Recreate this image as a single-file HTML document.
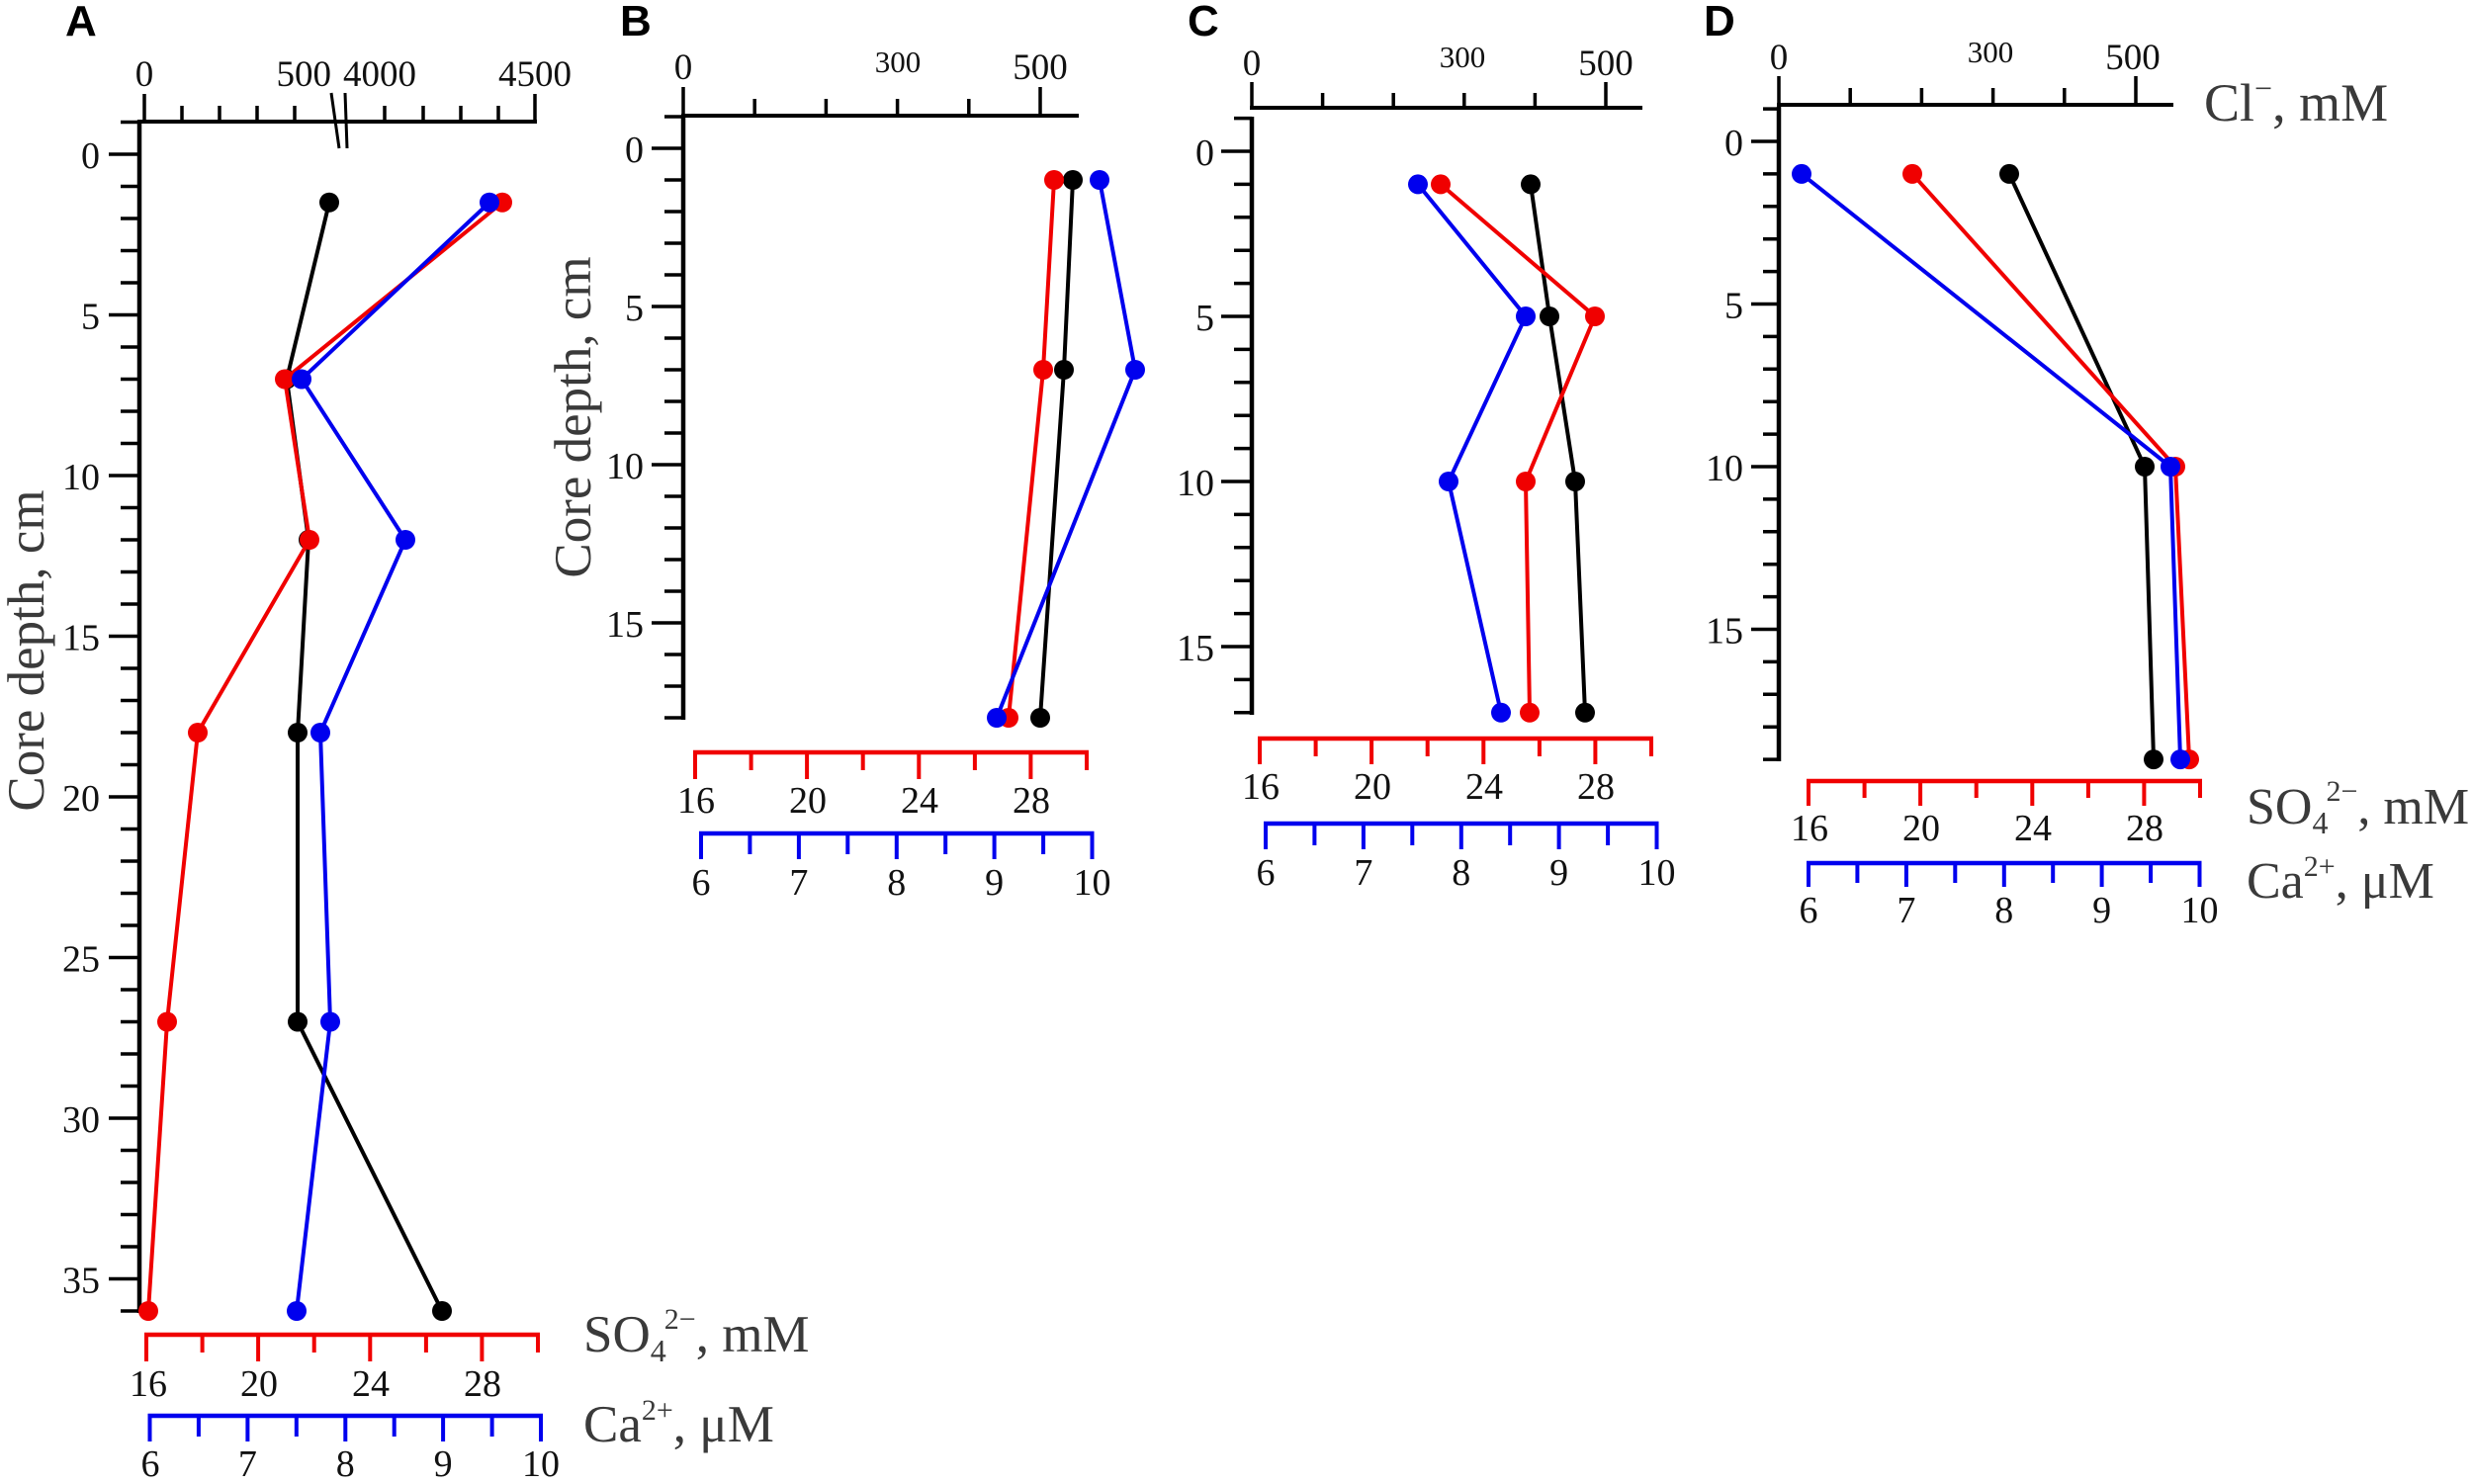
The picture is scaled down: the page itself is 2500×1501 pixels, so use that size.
<!DOCTYPE html>
<html><head><meta charset="utf-8"><style>
html,body{margin:0;padding:0;background:#fff;}
svg{display:block;}
text{font-family:"Liberation Serif",serif;}
.lt{font-family:"Liberation Sans",sans-serif;font-weight:bold;font-size:44px;fill:#000;}
.tk{font-size:38px;fill:#111;}
.tt{font-size:37px;fill:#111;}
.ts{font-size:31px;fill:#111;}
.ti{font-size:53px;fill:#3a3a3a;}
</style></head><body>
<svg width="2500" height="1501" viewBox="0 0 2500 1501" xmlns="http://www.w3.org/2000/svg">
<rect width="2500" height="1501" fill="#fff"/>

<!-- Panel letters -->
<text class="lt" x="66" y="36">A</text>
<text class="lt" x="627" y="36">B</text>
<text class="lt" x="1201" y="36">C</text>
<text class="lt" x="1723" y="36">D</text>

<!-- ================= PANEL A ================= -->
<g stroke="#000" fill="none">
<path d="M141 121.5V1328" stroke-width="4.5"/>
<path d="M139 123H543" stroke-width="4"/>
<path stroke-width="3.5" d="M122 123.5H141M122 188.5H141M122 221H141M122 253.5H141M122 286H141M122 351H141M122 383.5H141M122 416H141M122 448.5H141M122 513.5H141M122 546H141M122 578.5H141M122 611H141M122 676H141M122 708.5H141M122 741H141M122 773.5H141M122 838.5H141M122 871H141M122 903.5H141M122 936H141M122 1001H141M122 1033.5H141M122 1066H141M122 1098.5H141M122 1163.5H141M122 1196H141M122 1228.5H141M122 1261H141M122 1326H141"/>
<path stroke-width="3.5" d="M110 156H141M110 318.5H141M110 481H141M110 643.5H141M110 806H141M110 968.5H141M110 1131H141M110 1293.5H141"/>
<path stroke-width="3.5" d="M146 123V95M541 123V95M184 123V107M222 123V107M260 123V107M298 123V107M389 123V107M428 123V107M466 123V107M504 123V107"/>
<path stroke-width="3" d="M335 94L343 150M349 94L351 150"/>
</g>
<g class="tk" text-anchor="end">
<text x="101" y="170">0</text><text x="101" y="332.5">5</text><text x="101" y="495">10</text><text x="101" y="657.5">15</text>
<text x="101" y="820">20</text><text x="101" y="982.5">25</text><text x="101" y="1145">30</text><text x="101" y="1307.5">35</text>
</g>
<g class="tt">
<text x="146" y="87" text-anchor="middle">0</text>
<text x="335" y="87" text-anchor="end">500</text>
<text x="347" y="87">4000</text>
<text x="541" y="87" text-anchor="middle">4500</text>
</g>
<text class="ti" transform="translate(44,658) rotate(-90)" text-anchor="middle">Core depth, cm</text>

<!-- A bottom axes -->
<g stroke="#f00000" fill="none" stroke-width="4">
<path d="M146 1350H546" stroke-width="4.5"/>
<path d="M148 1350V1377M261.1 1350V1377M374.3 1350V1377M487.4 1350V1377M204.6 1350V1368M317.7 1350V1368M430.9 1350V1368M544 1350V1368"/>
</g>
<g stroke="#0000ee" fill="none" stroke-width="4">
<path d="M149.5 1432H549" stroke-width="4.5"/>
<path d="M151.5 1432V1458M250.4 1432V1458M349.3 1432V1458M448.1 1432V1458M547 1432V1458M200.9 1432V1453M299.8 1432V1453M398.7 1432V1453M497.6 1432V1453"/>
</g>
<g class="tk" text-anchor="middle">
<text x="150" y="1412">16</text><text x="262" y="1412">20</text><text x="375" y="1412">24</text><text x="488" y="1412">28</text>
<text x="152" y="1493">6</text><text x="250.4" y="1493">7</text><text x="349.3" y="1493">8</text><text x="448.1" y="1493">9</text><text x="547" y="1493">10</text>
</g>
<text class="ti" x="590" y="1367" style="font-size:53px">SO<tspan font-size="32" dy="10">4</tspan><tspan font-size="30" dx="-2" dy="-33">2−</tspan><tspan font-size="53" dy="23">, mM</tspan></text>
<text class="ti" x="590" y="1458" style="font-size:53px">Ca<tspan font-size="30" dy="-22">2+</tspan><tspan font-size="53" dy="22">, μM</tspan></text>

<!-- A data -->
<polyline stroke="#000" stroke-width="4" fill="none" points="333,204.75 290,383.5 312,546 301,741 301,1033.5 447,1326"/>
<g fill="#000"><circle cx="333" cy="204.75" r="10"/><circle cx="290" cy="383.5" r="10"/><circle cx="312" cy="546" r="10"/><circle cx="301" cy="741" r="10"/><circle cx="301" cy="1033.5" r="10"/><circle cx="447" cy="1326" r="10"/></g>
<polyline stroke="#f00000" stroke-width="4" fill="none" points="508,204.75 288,383.5 313,546 200,741 169,1033.5 150,1326"/>
<g fill="#f00000"><circle cx="508" cy="204.75" r="10"/><circle cx="288" cy="383.5" r="10"/><circle cx="313" cy="546" r="10"/><circle cx="200" cy="741" r="10"/><circle cx="169" cy="1033.5" r="10"/><circle cx="150" cy="1326" r="10"/></g>
<polyline stroke="#0000ee" stroke-width="4" fill="none" points="495,204.75 305,383.5 410,546 324,741 334,1033.5 300,1326"/>
<g fill="#0000ee"><circle cx="495" cy="204.75" r="10"/><circle cx="305" cy="383.5" r="10"/><circle cx="410" cy="546" r="10"/><circle cx="324" cy="741" r="10"/><circle cx="334" cy="1033.5" r="10"/><circle cx="300" cy="1326" r="10"/></g>

<!-- ================= PANEL B ================= -->
<g stroke="#000" fill="none">
<path d="M691 116V728" stroke-width="4.5"/>
<path d="M689 117H1091" stroke-width="4"/>
<path stroke-width="3.5" d="M672 118H691M672 182H691M672 214H691M672 246H691M672 278H691M672 342H691M672 374H691M672 406H691M672 438H691M672 502H691M672 534H691M672 566H691M672 598H691M672 662H691M672 694H691M672 726H691"/>
<path stroke-width="3.5" d="M659 150H691M659 310H691M659 470H691M659 630H691"/>
<path stroke-width="3.5" d="M691 117V88M1052 117V88M763.2 117V100M835.4 117V100M907.6 117V100M979.8 117V100"/>
</g>
<g class="tk" text-anchor="end">
<text x="651" y="164">0</text><text x="651" y="324">5</text><text x="651" y="484">10</text><text x="651" y="644">15</text>
</g>
<text class="tt" x="691" y="80" text-anchor="middle">0</text>
<text class="ts" x="908" y="73" text-anchor="middle">300</text>
<text class="tt" x="1052" y="80" text-anchor="middle">500</text>
<text class="ti" transform="translate(597,422) rotate(-90)" text-anchor="middle">Core depth, cm</text>

<g stroke="#f00000" fill="none" stroke-width="4">
<path d="M701 761H1101" stroke-width="4.5"/>
<path d="M703 761V788M816.1 761V788M929.3 761V788M1042.4 761V788M759.6 761V779M872.7 761V779M985.9 761V779M1099 761V779"/>
</g>
<g stroke="#0000ee" fill="none" stroke-width="4">
<path d="M707 843H1106.5" stroke-width="4.5"/>
<path d="M709 843V869M807.9 843V869M906.8 843V869M1005.6 843V869M1104.5 843V869M758.4 843V864M857.3 843V864M956.2 843V864M1055.1 843V864"/>
</g>
<g class="tk" text-anchor="middle">
<text x="704" y="822">16</text><text x="817" y="822">20</text><text x="930" y="822">24</text><text x="1043" y="822">28</text>
<text x="709" y="905">6</text><text x="807.9" y="905">7</text><text x="906.8" y="905">8</text><text x="1005.6" y="905">9</text><text x="1104.5" y="905">10</text>
</g>

<polyline stroke="#000" stroke-width="4" fill="none" points="1085,182 1076,374 1052,726"/>
<g fill="#000"><circle cx="1085" cy="182" r="10"/><circle cx="1076" cy="374" r="10"/><circle cx="1052" cy="726" r="10"/></g>
<polyline stroke="#f00000" stroke-width="4" fill="none" points="1066,182 1055,374 1020,726"/>
<g fill="#f00000"><circle cx="1066" cy="182" r="10"/><circle cx="1055" cy="374" r="10"/><circle cx="1020" cy="726" r="10"/></g>
<polyline stroke="#0000ee" stroke-width="4" fill="none" points="1112,182 1148,374 1008,726"/>
<g fill="#0000ee"><circle cx="1112" cy="182" r="10"/><circle cx="1148" cy="374" r="10"/><circle cx="1008" cy="726" r="10"/></g>

<!-- ================= PANEL C ================= -->
<g stroke="#000" fill="none">
<path d="M1266 118V723" stroke-width="4.5"/>
<path d="M1264 109H1661" stroke-width="4"/>
<path stroke-width="3.5" d="M1248 119.6H1266M1248 186.4H1266M1248 219.8H1266M1248 253.2H1266M1248 286.6H1266M1248 353.4H1266M1248 386.8H1266M1248 420.2H1266M1248 453.6H1266M1248 520.4H1266M1248 553.8H1266M1248 587.2H1266M1248 620.6H1266M1248 687.4H1266M1248 720.8H1266"/>
<path stroke-width="3.5" d="M1235 153H1266M1235 320H1266M1235 487H1266M1235 654H1266"/>
<path stroke-width="3.5" d="M1266 109V83M1624 109V83M1337.6 109V94M1409.2 109V94M1480.8 109V94M1552.4 109V94"/>
</g>
<g class="tk" text-anchor="end">
<text x="1228" y="167">0</text><text x="1228" y="334">5</text><text x="1228" y="501">10</text><text x="1228" y="668">15</text>
</g>
<text class="tt" x="1266" y="76" text-anchor="middle">0</text>
<text class="ts" x="1479" y="68" text-anchor="middle">300</text>
<text class="tt" x="1624" y="76" text-anchor="middle">500</text>

<g stroke="#f00000" fill="none" stroke-width="4">
<path d="M1272 747H1672" stroke-width="4.5"/>
<path d="M1274 747V773M1387.1 747V773M1500.3 747V773M1613.4 747V773M1330.6 747V765M1443.7 747V765M1556.9 747V765M1670 747V765"/>
</g>
<g stroke="#0000ee" fill="none" stroke-width="4">
<path d="M1278 833H1677.5" stroke-width="4.5"/>
<path d="M1280 833V859M1378.9 833V859M1477.8 833V859M1576.6 833V859M1675.5 833V859M1329.4 833V855M1428.3 833V855M1527.2 833V855M1626.1 833V855"/>
</g>
<g class="tk" text-anchor="middle">
<text x="1275" y="808">16</text><text x="1388" y="808">20</text><text x="1501" y="808">24</text><text x="1614" y="808">28</text>
<text x="1280" y="895">6</text><text x="1378.9" y="895">7</text><text x="1477.8" y="895">8</text><text x="1576.6" y="895">9</text><text x="1675.5" y="895">10</text>
</g>

<polyline stroke="#000" stroke-width="4" fill="none" points="1548,186.4 1567,320 1593,487 1603,720.8"/>
<g fill="#000"><circle cx="1548" cy="186.4" r="10"/><circle cx="1567" cy="320" r="10"/><circle cx="1593" cy="487" r="10"/><circle cx="1603" cy="720.8" r="10"/></g>
<polyline stroke="#f00000" stroke-width="4" fill="none" points="1457,186.4 1613,320 1543,487 1547,720.8"/>
<g fill="#f00000"><circle cx="1457" cy="186.4" r="10"/><circle cx="1613" cy="320" r="10"/><circle cx="1543" cy="487" r="10"/><circle cx="1547" cy="720.8" r="10"/></g>
<polyline stroke="#0000ee" stroke-width="4" fill="none" points="1434,186.4 1543,320 1465,487 1518,720.8"/>
<g fill="#0000ee"><circle cx="1434" cy="186.4" r="10"/><circle cx="1543" cy="320" r="10"/><circle cx="1465" cy="487" r="10"/><circle cx="1518" cy="720.8" r="10"/></g>

<!-- ================= PANEL D ================= -->
<g stroke="#000" fill="none">
<path d="M1799 108V770" stroke-width="4.5"/>
<path d="M1797 106H2198" stroke-width="4"/>
<path stroke-width="3.5" d="M1783 110.1H1799M1783 175.9H1799M1783 208.8H1799M1783 241.7H1799M1783 274.6H1799M1783 340.4H1799M1783 373.3H1799M1783 406.2H1799M1783 439.1H1799M1783 504.9H1799M1783 537.8H1799M1783 570.7H1799M1783 603.6H1799M1783 669.4H1799M1783 702.3H1799M1783 735.2H1799M1783 768.1H1799"/>
<path stroke-width="3.5" d="M1771 143H1799M1771 307.5H1799M1771 472H1799M1771 636.5H1799"/>
<path stroke-width="3.5" d="M1799 106V77M2160 106V77M1871.2 106V89M1943.4 106V89M2015.6 106V89M2087.8 106V89"/>
</g>
<g class="tk" text-anchor="end">
<text x="1763" y="157">0</text><text x="1763" y="321.5">5</text><text x="1763" y="486">10</text><text x="1763" y="650.5">15</text>
</g>
<text class="tt" x="1799" y="70" text-anchor="middle">0</text>
<text class="ts" x="2013" y="63" text-anchor="middle">300</text>
<text class="tt" x="2157" y="70" text-anchor="middle">500</text>
<text class="ti" x="2229" y="122" style="font-size:54px">Cl<tspan font-size="32" dy="-22">−</tspan><tspan font-size="54" dy="22">, mM</tspan></text>

<g stroke="#f00000" fill="none" stroke-width="4">
<path d="M1827 790H2227" stroke-width="4.5"/>
<path d="M1829 790V815M1942.1 790V815M2055.3 790V815M2168.4 790V815M1885.6 790V807M1998.7 790V807M2111.9 790V807M2225 790V807"/>
</g>
<g stroke="#0000ee" fill="none" stroke-width="4">
<path d="M1827 873H2226.5" stroke-width="4.5"/>
<path d="M1829 873V897M1927.9 873V897M2026.8 873V897M2125.6 873V897M2224.5 873V897M1878.4 873V893M1977.3 873V893M2076.2 873V893M2175.1 873V893"/>
</g>
<g class="tk" text-anchor="middle">
<text x="1830" y="850">16</text><text x="1943" y="850">20</text><text x="2056" y="850">24</text><text x="2169" y="850">28</text>
<text x="1829" y="933">6</text><text x="1927.9" y="933">7</text><text x="2026.8" y="933">8</text><text x="2125.6" y="933">9</text><text x="2224.5" y="933">10</text>
</g>
<text class="ti" x="2272" y="833" style="font-size:52px">SO<tspan font-size="32" dy="10">4</tspan><tspan font-size="30" dx="-2" dy="-33">2−</tspan><tspan font-size="52" dy="23">, mM</tspan></text>
<text class="ti" x="2272" y="908" style="font-size:52px">Ca<tspan font-size="30" dy="-22">2+</tspan><tspan font-size="52" dy="22">, μM</tspan></text>

<polyline stroke="#000" stroke-width="4" fill="none" points="2032,175.9 2169,472 2178,768.1"/>
<g fill="#000"><circle cx="2032" cy="175.9" r="10"/><circle cx="2169" cy="472" r="10"/><circle cx="2178" cy="768.1" r="10"/></g>
<polyline stroke="#f00000" stroke-width="4" fill="none" points="1934,175.9 2200,472 2214,768.1"/>
<g fill="#f00000"><circle cx="1934" cy="175.9" r="10"/><circle cx="2200" cy="472" r="10"/><circle cx="2214" cy="768.1" r="10"/></g>
<polyline stroke="#0000ee" stroke-width="4" fill="none" points="1822,175.9 2195,472 2205,768.1"/>
<g fill="#0000ee"><circle cx="1822" cy="175.9" r="10"/><circle cx="2195" cy="472" r="10"/><circle cx="2205" cy="768.1" r="10"/></g>
</svg>
</body></html>
